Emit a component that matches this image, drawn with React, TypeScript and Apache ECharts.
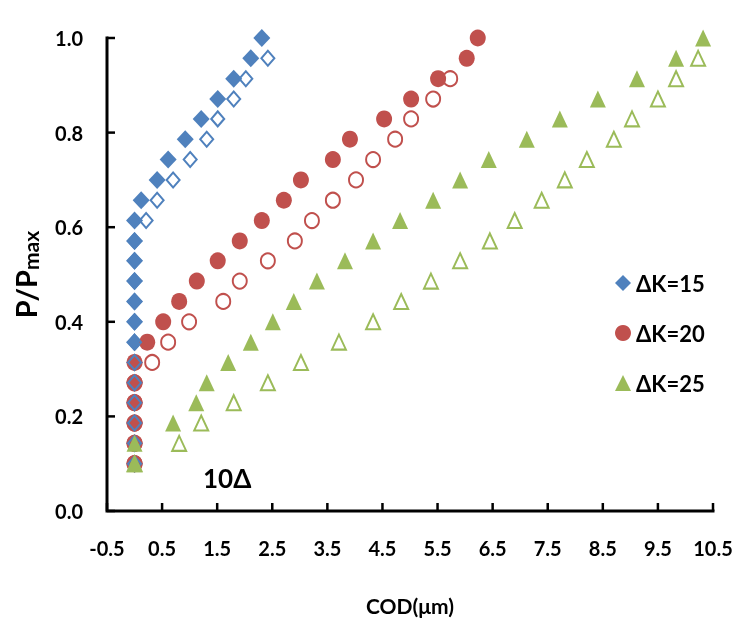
import React, { useEffect, useRef } from "react";
import * as echarts from "echarts";

// P/Pmax levels (shared by all series)
const pLevels = [
  0.1, 0.143, 0.186, 0.229, 0.271, 0.314, 0.357, 0.4, 0.443, 0.486, 0.529,
  0.571, 0.614, 0.657, 0.7, 0.743, 0.786, 0.829, 0.871, 0.914, 0.957, 1.0,
];

// COD (µm) for each level; null = no point
const codK15Filled = [
  0, 0, 0, 0, 0, 0, 0, 0, 0, 0, 0, 0, 0, 0.12, 0.41, 0.61, 0.92, 1.21, 1.51,
  1.8, 2.11, 2.31,
];
const codK15Open = [
  0, 0, 0, 0, 0, 0, 0, 0, 0, 0, 0, 0, 0.21, 0.41, 0.7, 1.01, 1.31, 1.51, 1.8,
  2.02, 2.42, null,
];
const codK20Filled = [
  0, 0, 0, 0, 0, 0, 0.23, 0.52, 0.81, 1.13, 1.51, 1.91, 2.31, 2.71, 3.02, 3.6,
  3.91, 4.53, 5.02, 5.51, 6.03, 6.23,
];
const codK20Open = [
  0, 0, 0, 0, 0, 0.32, 0.61, 0.99, 1.61, 1.91, 2.42, 2.91, 3.22, 3.6, 4.02,
  4.33, 4.73, 5.02, 5.42, 5.73, null, null,
];
const codK25Filled = [
  0, 0, 0.7, 1.12, 1.31, 1.7, 2.11, 2.51, 2.89, 3.31, 3.82, 4.33, 4.82, 5.42,
  5.91, 6.43, 7.12, 7.72, 8.41, 9.12, 9.83, 10.32,
];
const codK25Open = [
  0, 0.81, 1.21, 1.8, 2.42, 3.02, 3.71, 4.33, 4.84, 5.38, 5.91, 6.45, 6.9,
  7.39, 7.81, 8.21, 8.7, 9.03, 9.5, 9.83, 10.23, null,
];

const legendNames = ["ΔK=15", "ΔK=20", "ΔK=25"];
const xTicks = [-0.5, 0.5, 1.5, 2.5, 3.5, 4.5, 5.5, 6.5, 7.5, 8.5, 9.5, 10.5];
const yTicks = [0, 0.2, 0.4, 0.6, 0.8, 1.0];

const BLUE = "#4F81BD";
const RED = "#C0504D";
const GREEN = "#9BBB59";
const FONT = "Lato, 'Open Sans', sans-serif";

function pairs(xs: (number | null)[]) {
  const out: number[][] = [];
  xs.forEach((x, i) => {
    if (x !== null) out.push([x, pLevels[i]]);
  });
  return out;
}

export default function App() {
  const ref = useRef<HTMLDivElement>(null);
  useEffect(() => {
    if (!ref.current) return;
    const chart = echarts.init(ref.current, undefined, { renderer: "svg" });
    const filled = (name: string, color: string, symbol: string, size: number[], xs: (number | null)[]) => ({
      name,
      type: "scatter",
      symbol,
      symbolSize: size,
      data: pairs(xs),
      itemStyle: { color, opacity: 1 },
      emphasis: { disabled: true },
    });
    const open = (name: string, color: string, symbol: string, size: number[], xs: (number | null)[]) => ({
      name,
      type: "scatter",
      symbol,
      symbolSize: size,
      data: pairs(xs),
      itemStyle: { color: "rgba(255,255,255,0)", borderColor: color, borderWidth: 2, opacity: 1 },
      emphasis: { disabled: true },
    });
    const xMin = xTicks[0];
    const xMax = xTicks[xTicks.length - 1];
    const yMin = yTicks[0];
    const yMax = yTicks[yTicks.length - 1];
    chart.setOption({
      animation: false,
      grid: { left: 107, right: 43, top: 38, bottom: 130 },
      legend: {
        data: legendNames,
        orient: "vertical",
        left: 610,
        top: 266,
        itemWidth: 16,
        itemHeight: 16,
        itemGap: 26,
        textStyle: { fontFamily: FONT, fontWeight: "bold", fontSize: 22, color: "#000", lineHeight: 24 },
      },
      xAxis: {
        type: "value",
        min: xMin,
        max: xMax,
        interval: 1,
        name: "COD(μm)",
        nameLocation: "middle",
        nameGap: 84,
        nameTextStyle: { fontFamily: FONT, fontWeight: "bold", fontSize: 21, color: "#000" },
        axisLine: { show: false, onZero: false },
        axisTick: { show: false },
        axisLabel: {
          margin: 27,
          fontFamily: FONT,
          fontWeight: "bold",
          fontSize: 20,
          color: "#000",
          formatter: (v: number) => v.toFixed(1),
          showMinLabel: true,
          showMaxLabel: true,
        },
        splitLine: { show: false },
      },
      yAxis: {
        type: "value",
        min: yMin,
        max: yMax,
        interval: 0.2,
        name: "{a|P/P}{b|max}",
        nameLocation: "middle",
        nameRotate: 90,
        nameGap: 66,
        nameTextStyle: {
          rich: {
            a: { fontFamily: FONT, fontWeight: "bold", fontSize: 29, color: "#000", lineHeight: 32 },
            b: { fontFamily: FONT, fontWeight: "bold", fontSize: 21, color: "#000", lineHeight: 12, verticalAlign: "bottom" },
          },
        },
        axisLine: { show: false, onZero: false },
        axisTick: { show: false },
        axisLabel: {
          margin: 24,
          fontFamily: FONT,
          fontWeight: "bold",
          fontSize: 20,
          color: "#000",
          formatter: (v: number) => v.toFixed(1),
        },
        splitLine: { show: false },
      },
      graphic: [
        {
          type: "text",
          left: 203,
          top: 465,
          style: { text: "10Δ", fontFamily: FONT, fontWeight: "bold", fontSize: 26, fill: "#000" },
        },
      ],
      series: [
        filled("ΔK=15", BLUE, "diamond", [17, 18], codK15Filled),
        filled("ΔK=20", RED, "circle", [16, 17], codK20Filled),
        open("ΔK=20 open", RED, "circle", [14, 15], codK20Open),
        open("ΔK=15 open", BLUE, "diamond", [13, 15], codK15Open),
        filled("ΔK=25", GREEN, "triangle", [16, 17], codK25Filled),
        open("ΔK=25 open", GREEN, "triangle", [14, 15], codK25Open),
        // axis frame drawn as a line series through the axes' own scales
        {
          name: "axis frame",
          type: "line",
          data: [
            [xMin, yMax],
            [xMin, yMin],
            [xMax, yMin],
          ],
          symbol: "none",
          clip: false,
          silent: true,
          z: 10,
          lineStyle: { color: "#000", width: 3, cap: "square", join: "miter" },
          emphasis: { disabled: true },
        },
        // inside ticks on the x axis
        {
          name: "x ticks",
          type: "scatter",
          data: xTicks.map((v) => [v, yMin]),
          symbol: "rect",
          symbolSize: [2.5, 8],
          symbolOffset: [0, -4],
          clip: false,
          silent: true,
          z: 10,
          itemStyle: { color: "#000", opacity: 1 },
          emphasis: { disabled: true },
        },
        // inside ticks on the y axis
        {
          name: "y ticks",
          type: "scatter",
          data: yTicks.map((v) => [xMin, v]),
          symbol: "rect",
          symbolSize: [8, 2.5],
          symbolOffset: [4, 0],
          clip: false,
          silent: true,
          z: 10,
          itemStyle: { color: "#000", opacity: 1 },
          emphasis: { disabled: true },
        },
      ],
    });
    return () => chart.dispose();
  }, []);
  return <div ref={ref} style={{ position: "fixed", left: 0, top: 0, width: 756, height: 641 }} />;
}
